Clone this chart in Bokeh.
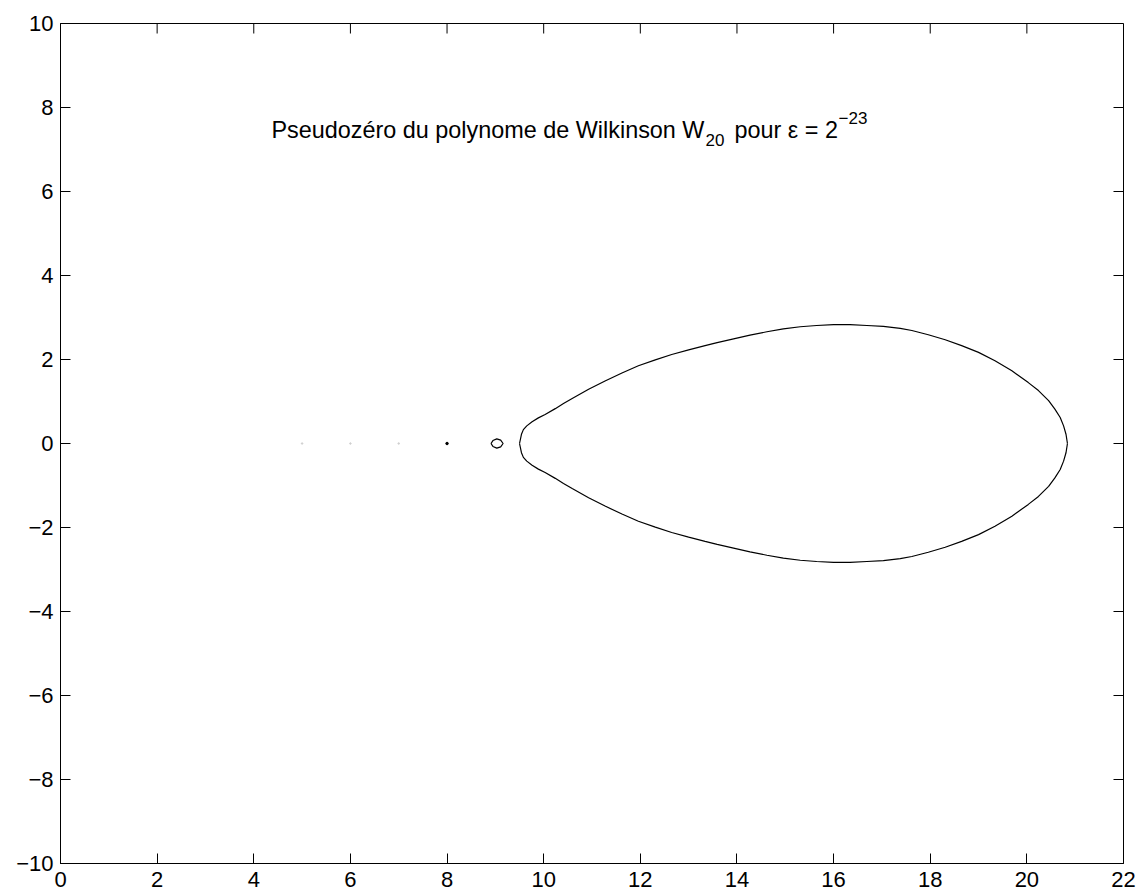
import math
from bokeh.plotting import figure
from bokeh.models import Range1d, FixedTicker, Label
from bokeh.embed import file_html
from bokeh.resources import INLINE

# ---------------- data ----------------
x_ticks = [0, 2, 4, 6, 8, 10, 12, 14, 16, 18, 20, 22]
x_tick_labels = ["0", "2", "4", "6", "8", "10", "12", "14", "16", "18", "20", "22"]
y_ticks = [-10, -8, -6, -4, -2, 0, 2, 4, 6, 8, 10]
y_tick_labels = ["\u221210", "\u22128", "\u22126", "\u22124", "\u22122", "0", "2", "4", "6", "8", "10"]

# large pseudozero region, upper half (left tip -> right tip)
teardrop_x = [9.50, 9.54, 9.58, 9.65, 9.76, 9.89, 10.03, 10.24, 10.41, 10.59, 10.93,
              11.27, 11.62, 11.96, 12.31, 12.65, 13.00, 13.34, 13.59, 13.93, 14.27,
              14.62, 14.96, 15.31, 15.65, 16.00, 16.34, 16.69, 17.03, 17.38, 17.62,
              17.96, 18.31, 18.65, 19.00, 19.34, 19.69, 20.03, 20.24, 20.45, 20.58,
              20.69, 20.76, 20.81, 20.84]
teardrop_y_upper = [0.00, 0.22, 0.33, 0.42, 0.52, 0.61, 0.69, 0.83, 0.95, 1.07, 1.29,
                    1.49, 1.68, 1.85, 1.99, 2.12, 2.23, 2.33, 2.40, 2.49, 2.58,
                    2.66, 2.73, 2.78, 2.81, 2.83, 2.83, 2.81, 2.79, 2.74, 2.69,
                    2.59, 2.47, 2.33, 2.17, 1.97, 1.73, 1.45, 1.26, 1.02, 0.82,
                    0.62, 0.42, 0.22, 0.00]
# lower half (mirror image of the upper half in the picture)
teardrop_y_lower = [0.00, -0.22, -0.33, -0.42, -0.52, -0.61, -0.69, -0.83, -0.95, -1.07, -1.29,
                    -1.49, -1.68, -1.85, -1.99, -2.12, -2.23, -2.33, -2.40, -2.49, -2.58,
                    -2.66, -2.73, -2.78, -2.81, -2.83, -2.83, -2.81, -2.79, -2.74, -2.69,
                    -2.59, -2.47, -2.33, -2.17, -1.97, -1.73, -1.45, -1.26, -1.02, -0.82,
                    -0.62, -0.42, -0.22, 0.00]

# small closed curve near 9
loop_x = [8.91, 8.95, 9.03, 9.11, 9.16, 9.11, 9.03, 8.95, 8.91]
loop_y = [0.00, 0.07, 0.11, 0.08, 0.00, -0.08, -0.11, -0.07, 0.00]

# tiny specks near 5, 6, 7 (faint) and 8 (dark)
speck_x = [5.0, 6.0, 7.0]
speck_y = [0.0, 0.0, 0.0]
dot_x = [8.0]
dot_y = [0.0]

title_main = "Pseudozéro du polynome de Wilkinson W"
title_sub = "20"
title_mid = "pour \u03b5 = 2"
title_sup = "\u221223"
title_x = 4.367   # data position of the title's left edge
title_y = 7.457   # data position of the title's baseline

FONT = "Liberation Sans"
X0, X1 = 0, 22
Y0, Y1 = -10, 10
TICK = 10

# ---------------- figure ----------------
p = figure(width=1141, height=896,
           x_range=Range1d(X0, X1), y_range=Range1d(Y0, Y1),
           output_backend="svg", toolbar_location=None,
           min_border_left=60, min_border_right=18,
           min_border_top=23, min_border_bottom=33)
p.background_fill_color = "white"
p.border_fill_color = "white"
p.outline_line_color = "black"
p.outline_line_width = 1
p.grid.visible = False

def style_axis(ax, ticks, labels, standoff):
    ax.ticker = FixedTicker(ticks=ticks)
    ax.major_label_overrides = {t: l for t, l in zip(ticks, labels)}
    ax.major_tick_in = TICK
    ax.major_tick_out = 0
    ax.minor_tick_line_color = None
    ax.major_tick_line_color = "black"
    ax.major_tick_line_width = 1
    ax.axis_line_color = "black"
    ax.axis_line_width = 1
    ax.major_label_text_font = FONT
    ax.major_label_text_color = "black"
    ax.major_label_text_font_size = "22px"
    ax.major_label_standoff = standoff

style_axis(p.xaxis[0], x_ticks, x_tick_labels, 8)
style_axis(p.yaxis[0], y_ticks, y_tick_labels, 7)

# inward ticks on the top and right edges of the box (no labels there)
p.ray(x=x_ticks, y=[Y1] * len(x_ticks), length=TICK, length_units="screen",
      angle=-math.pi / 2, line_color="black", line_width=1)
p.ray(x=[X1] * len(y_ticks), y=y_ticks, length=TICK, length_units="screen",
      angle=math.pi, line_color="black", line_width=1)

# curves
p.line(teardrop_x, teardrop_y_upper, line_color="black", line_width=1.2)
p.line(teardrop_x, teardrop_y_lower, line_color="black", line_width=1.2)
p.line(loop_x, loop_y, line_color="black", line_width=1.2)
p.scatter(speck_x, speck_y, size=1.5, color="#cfcfcf", marker="circle")
p.scatter(dot_x, dot_y, size=2.5, color="black", marker="circle")

# title text made of pieces (main, subscript, middle, superscript)
p.add_layout(Label(x=title_x, y=title_y, text=title_main, text_font=FONT,
                   text_font_size="23.4px", text_baseline="alphabetic", text_color="black"))
p.add_layout(Label(x=title_x, y=title_y, x_offset=434, y_offset=-10, text=title_sub,
                   text_font=FONT, text_font_size="17px", text_baseline="alphabetic",
                   text_color="black"))
p.add_layout(Label(x=title_x, y=title_y, x_offset=463, text=title_mid, text_font=FONT,
                   text_font_size="23.4px", text_baseline="alphabetic", text_color="black"))
p.add_layout(Label(x=title_x, y=title_y, x_offset=567, y_offset=12.6, text=title_sup,
                   text_font=FONT, text_font_size="17px", text_baseline="alphabetic",
                   text_color="black"))

open("out.html", "w").write(file_html(p, INLINE))
